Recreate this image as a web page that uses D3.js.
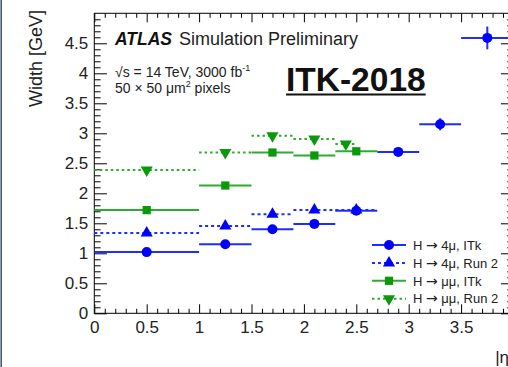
<!DOCTYPE html>
<html>
<head>
<meta charset="utf-8">
<script src="https://cdn.jsdelivr.net/npm/d3@7"></script>
<style>
  html, body { margin: 0; padding: 0; background: #fff; }
  svg { display: block; font-family: "Liberation Sans", Arial, Helvetica, sans-serif; }
</style>
</head>
<body>
<svg id="chart" width="508" height="367"></svg>
<script>
// |eta| bin edges and fitted widths [GeV] for each channel / detector layout
const edges4muITk = [0, 1, 1.5, 1.9, 2.3, 2.7, 3.1, 3.5, 4.0];
const width4muITk = [1.02, 1.15, 1.40, 1.49, 1.71, 2.69, 3.15, 4.59];
const err4muITk   = [0.02, 0.02, 0.03, 0.03, 0.04, 0.05, 0.10, 0.19];

const edges4muRun2 = [0, 1, 1.5, 1.9, 2.3, 2.7];
const width4muRun2 = [1.34, 1.455, 1.65, 1.72, 1.72];

const edgesMuMuITk = [0, 1, 1.5, 1.9, 2.3, 2.7];
const widthMuMuITk = [1.72, 2.13, 2.68, 2.63, 2.70];

const edgesMuMuRun2 = [0, 1, 1.5, 1.9, 2.3, 2.5];
const widthMuMuRun2 = [2.39, 2.68, 2.96, 2.905, 2.82];

// legend entries: decay products, detector
const legendProc = ["4\u03bc, ITk", "4\u03bc, Run 2", "\u03bc\u03bc, ITk", "\u03bc\u03bc, Run 2"];

const xMajorTicks = [0, 0.5, 1, 1.5, 2, 2.5, 3, 3.5];
const yMajorTicks = [0, 0.5, 1, 1.5, 2, 2.5, 3, 3.5, 4, 4.5];

const BLUE = "#0000ff", BLUE_LINE = "#1f2eff";
const GREEN = "#0a990a", GREEN_LINE = "#2fac2f";

const frame = { left: 94.3, right: 513.5, top: 13.3, bottom: 313.3 };
const svg = d3.select("#chart");

const x = d3.scaleLinear().domain([0, 4]).range([frame.left, frame.right]);
const y = d3.scaleLinear().domain([0, 5]).range([frame.bottom, frame.top]);

// outer left border line
svg.append("line").attr("x1", 1.2).attr("x2", 1.2).attr("y1", 0).attr("y2", 367)
  .attr("stroke", "#4a5a70").attr("stroke-width", 1.6);

// ---- axes ----
const minorX = d3.range(0, 40.01, 1).map(d => d / 10).filter(d => Math.abs(d * 2 - Math.round(d * 2)) > 1e-6);
const minorY = d3.range(0, 50.01, 1).map(d => d / 10).filter(d => Math.abs(d * 2 - Math.round(d * 2)) > 1e-6);
const xTickLen = 9, yTickLen = 12.6;

function styleAxis(g) {
  g.select(".domain").remove();
  g.selectAll(".tick line").attr("stroke", "#000").attr("stroke-width", 1);
  g.selectAll(".tick text").attr("fill", "#222").attr("font-size", 17)
    .attr("font-family", '"Liberation Sans", Arial, Helvetica, sans-serif');
}

// bottom
svg.append("g").attr("transform", `translate(0,${frame.bottom})`)
  .call(d3.axisBottom(x).tickValues(xMajorTicks).tickSize(-xTickLen).tickPadding(7.5).tickFormat(d3.format("~g")))
  .call(styleAxis);
svg.append("g").attr("transform", `translate(0,${frame.bottom})`)
  .call(d3.axisBottom(x).tickValues(minorX).tickSize(-xTickLen / 2).tickFormat(""))
  .call(styleAxis);
// top
svg.append("g").attr("transform", `translate(0,${frame.top})`)
  .call(d3.axisTop(x).tickValues(xMajorTicks.concat([4])).tickSize(-xTickLen).tickFormat(""))
  .call(styleAxis);
svg.append("g").attr("transform", `translate(0,${frame.top})`)
  .call(d3.axisTop(x).tickValues(minorX).tickSize(-xTickLen / 2).tickFormat(""))
  .call(styleAxis);
// left
svg.append("g").attr("transform", `translate(${frame.left},0)`)
  .call(d3.axisLeft(y).tickValues(yMajorTicks).tickSize(-yTickLen).tickPadding(6).tickFormat(d3.format("~g")))
  .call(styleAxis);
svg.append("g").attr("transform", `translate(${frame.left},0)`)
  .call(d3.axisLeft(y).tickValues(minorY).tickSize(-yTickLen / 2).tickFormat(""))
  .call(styleAxis);
// right
svg.append("g").attr("transform", `translate(${frame.right},0)`)
  .call(d3.axisRight(y).tickValues(yMajorTicks).tickSize(-yTickLen).tickFormat(""))
  .call(styleAxis);
svg.append("g").attr("transform", `translate(${frame.right},0)`)
  .call(d3.axisRight(y).tickValues(minorY).tickSize(-yTickLen / 2).tickFormat(""))
  .call(styleAxis);

// frame
svg.append("rect").attr("x", frame.left).attr("y", frame.top)
  .attr("width", frame.right - frame.left).attr("height", frame.bottom - frame.top)
  .attr("fill", "none").attr("stroke", "#000").attr("stroke-width", 1);

// axis titles
svg.append("text").attr("transform", "translate(41.5,10) rotate(-90)")
  .attr("text-anchor", "end").attr("font-size", 18).attr("fill", "#222").text("Width [GeV]");
svg.append("text").attr("x", frame.right).attr("y", 363)
  .attr("text-anchor", "end").attr("font-size", 17).attr("fill", "#222").text("|\u03b7|");

// ---- data series ----
function bins(edges, vals, errs) {
  return vals.map((v, i) => ({ lo: edges[i], hi: edges[i + 1], v, e: errs ? errs[i] : 0 }));
}

const triUp = d3.symbol().type(d3.symbolTriangle).size(64);
const square = d3.symbol().type(d3.symbolSquare).size(68);

function drawSeries(data, opt) {
  const g = svg.append("g");
  g.selectAll("line.h").data(data).join("line")
    .attr("x1", d => x(d.lo)).attr("x2", d => x(d.hi))
    .attr("y1", d => y(d.v)).attr("y2", d => y(d.v))
    .attr("stroke", opt.line).attr("stroke-width", 2)
    .attr("stroke-dasharray", opt.dash || null);
  g.selectAll("line.v").data(data.filter(d => d.e > 0)).join("line")
    .attr("x1", d => x((d.lo + d.hi) / 2)).attr("x2", d => x((d.lo + d.hi) / 2))
    .attr("y1", d => y(d.v - d.e)).attr("y2", d => y(d.v + d.e))
    .attr("stroke", opt.line).attr("stroke-width", 2);
  g.selectAll("g.m").data(data).join("g")
    .attr("transform", d => `translate(${x((d.lo + d.hi) / 2)},${y(d.v)})`)
    .each(function () { drawMarker(d3.select(this), opt); });
}

function drawMarker(sel, opt) {
  if (opt.marker === "circle") {
    sel.append("circle").attr("r", 5).attr("fill", opt.color);
  } else if (opt.marker === "square") {
    sel.append("path").attr("d", square()).attr("fill", opt.color);
  } else if (opt.marker === "triUp") {
    sel.append("path").attr("d", triUp()).attr("fill", opt.color);
  } else if (opt.marker === "triDown") {
    sel.append("path").attr("d", triUp()).attr("transform", "rotate(180)").attr("fill", opt.color);
  }
}

const series = [
  { data: bins(edgesMuMuRun2, widthMuMuRun2), color: GREEN, line: GREEN_LINE, dash: "2.5,3", marker: "triDown" },
  { data: bins(edgesMuMuITk, widthMuMuITk), color: GREEN, line: GREEN_LINE, marker: "square" },
  { data: bins(edges4muRun2, width4muRun2), color: BLUE, line: BLUE_LINE, dash: "3,3", marker: "triUp" },
  { data: bins(edges4muITk, width4muITk, err4muITk), color: BLUE, line: BLUE_LINE, marker: "circle" }
];
series.forEach(s => drawSeries(s.data, s));

// ---- legend ----
const legendOrder = [3, 2, 1, 0];
const legend = svg.append("g");
legendOrder.forEach((si, row) => {
  const s = series[si];
  const cy = 245 + row * 17.9;
  const item = legend.append("g");
  item.append("line").attr("x1", 372).attr("x2", 406).attr("y1", cy).attr("y2", cy)
    .attr("stroke", s.line).attr("stroke-width", 2).attr("stroke-dasharray", s.dash || null);
  drawMarker(item.append("g").attr("transform", `translate(389,${cy})`), s);
  const t = item.append("text").attr("x", 413).attr("y", cy + 4.7).attr("font-size", 13).attr("fill", "#222");
  t.append("tspan").text("H ");
  t.append("tspan").attr("font-family", '"DejaVu Sans", sans-serif').attr("font-size", 14).text("\u2192");
  t.append("tspan").text(" " + legendProc[row]);
});

// ---- annotations ----
svg.append("text").attr("x", 115).attr("y", 45).attr("font-size", 17.5).attr("fill", "#111")
  .attr("font-weight", "bold").attr("font-style", "italic").text("ATLAS");
svg.append("text").attr("x", 179).attr("y", 45).attr("font-size", 18).attr("fill", "#222")
  .text("Simulation Preliminary");

const energy = svg.append("text").attr("x", 115).attr("y", 77).attr("font-size", 14).attr("fill", "#222");
energy.append("tspan").text("\u221as = 14 TeV, 3000 fb");
energy.append("tspan").attr("font-size", 9).attr("dy", -6).text("-1");

const pix = svg.append("text").attr("x", 115).attr("y", 93).attr("font-size", 14).attr("fill", "#222");
pix.append("tspan").text("50 \u00d7 50 \u03bcm");
pix.append("tspan").attr("font-size", 9).attr("dy", -6).text("2");
pix.append("tspan").attr("dy", 6).text(" pixels");

const tag = svg.append("text").attr("x", 286).attr("y", 91).attr("font-size", 33.5)
  .attr("font-weight", "bold").attr("fill", "#111").text("ITK-2018");
const tagW = tag.node().getComputedTextLength();
svg.append("line").attr("x1", 286).attr("x2", 286 + tagW).attr("y1", 94.5).attr("y2", 94.5)
  .attr("stroke", "#111").attr("stroke-width", 2);
</script>
</body>
</html>
